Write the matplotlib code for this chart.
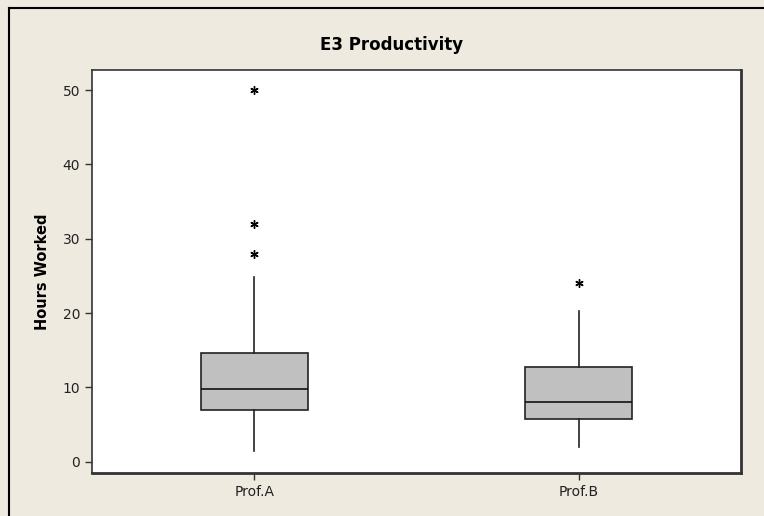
import matplotlib.pyplot as plt
from matplotlib.lines import Line2D

# five-number summaries per professor (hours worked)
groups = ["Prof.A", "Prof.B"]
q1 = [7.0, 5.8]
medians = [9.8, 8.0]
q3 = [14.6, 12.8]
whisk_lo = [1.5, 2.0]
whisk_hi = [24.8, 20.3]
outliers = [[28, 32, 50], [24]]

bg = "#eeeae0"
fig = plt.figure(figsize=(7.64, 5.16), dpi=100, facecolor=bg)
ax = fig.add_axes([92 / 764, 1 - 473 / 516, (741 - 92) / 764, (473 - 70) / 516])
ax.set_facecolor("white")

stats = []
for i in range(len(groups)):
    stats.append(dict(label=groups[i], q1=q1[i], med=medians[i], q3=q3[i],
                      whislo=whisk_lo[i], whishi=whisk_hi[i], fliers=outliers[i]))

ax.bxp(stats, positions=[1, 2], widths=0.33, patch_artist=True, showcaps=False,
       boxprops=dict(facecolor="#c0c0c0", edgecolor="#222222", linewidth=1.2),
       medianprops=dict(color="#111111", linewidth=1.2),
       whiskerprops=dict(color="#222222", linewidth=1.2),
       flierprops=dict(marker=(6, 2, 0), markersize=6, markeredgecolor="black",
                       markeredgewidth=1.0, linestyle="none"))

ax.set_xlim(0.5, 2.5)
ax.set_ylim(-1.5, 52.7)
ax.set_yticks([0, 10, 20, 30, 40, 50])
ax.tick_params(axis="both", direction="out", length=5, width=1, color="#333333",
               labelsize=10, labelcolor="#222222")
for side in ax.spines:
    ax.spines[side].set_color("#333333")
    ax.spines[side].set_linewidth(1.2)
ax.spines["right"].set_linewidth(2)
ax.spines["bottom"].set_linewidth(2)

ax.set_ylabel("Hours Worked", fontsize=10.5, fontweight="bold", labelpad=9)
fig.text(392 / 764, 1 - 45 / 516, "E3 Productivity", ha="center", va="center",
         fontsize=12, fontweight="bold")

# frame lines along the top and left edge
fig.add_artist(Line2D([9 / 764, 9 / 764], [0, 1 - 8 / 516], transform=fig.transFigure,
                      color="black", linewidth=1.5))
fig.add_artist(Line2D([9 / 764, 1], [1 - 8 / 516, 1 - 8 / 516], transform=fig.transFigure,
                      color="black", linewidth=1.5))

fig.savefig("out.png", dpi=100, facecolor=bg)
